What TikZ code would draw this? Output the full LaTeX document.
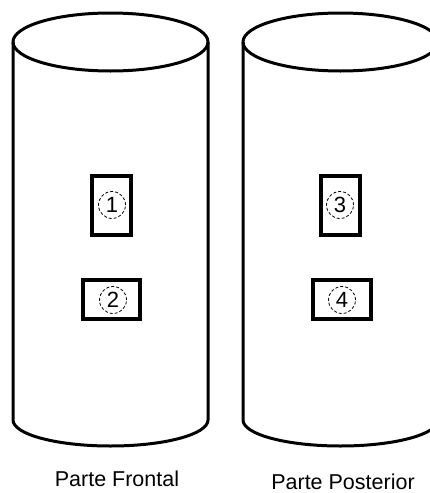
\documentclass[tikz,border=0pt]{standalone}
\usepackage{fontspec}
\setmainfont{Liberation Sans}
\usepackage{tikz}
\usetikzlibrary{positioning}

\begin{document}
\begin{tikzpicture}[x=1pt, y=-1pt,
    shell/.style={line width=3pt, line join=round},
    slot/.style={rectangle, draw, line width=4pt, inner sep=0pt},
    num/.style={circle, draw=black, densely dashed, line width=0.8pt, minimum size=27pt, inner sep=0pt, font=\fontsize{22}{22}\selectfont},
    caption/.style={font=\fontsize{21.5}{24}\selectfont}
]
\useasboundingbox (0,0) rectangle (430,493);

% cilindro frontal
\draw[shell] (110.5,42) ellipse [x radius=97.5pt, y radius=29pt];
\draw[shell] (13,42) -- (13,420) arc [start angle=180, end angle=360, x radius=97.5pt, y radius=26pt] -- (208,42);

% cilindro posterior
\draw[shell] (340.5,42) ellipse [x radius=97.5pt, y radius=29pt];
\draw[shell] (243,42) -- (243,420) arc [start angle=180, end angle=360, x radius=97.5pt, y radius=26pt] -- (438,42);

% ranuras
\node[slot, minimum width=39pt, minimum height=59pt] (box1) at (111.5,205.5) {};
\node[slot, minimum width=57pt, minimum height=39pt] (box2) at (111.5,299.5) {};
\node[slot, minimum width=39pt, minimum height=59pt] (box3) at (340.5,205.5) {};
\node[slot, minimum width=58pt, minimum height=39pt] (box4) at (342,299.5) {};

% numeros
\node[num] (n1) at (112,205) {1};
\node[num] (n2) at (113,300) {2};
\node[num] (n3) at (340,205) {3};
\node[num] (n4) at (342,300) {4};

% etiquetas
\node[caption] (front) at (117,479) {Parte Frontal};
\node[caption] (back) at (343,482) {Parte Posterior};
\end{tikzpicture}
\end{document}
